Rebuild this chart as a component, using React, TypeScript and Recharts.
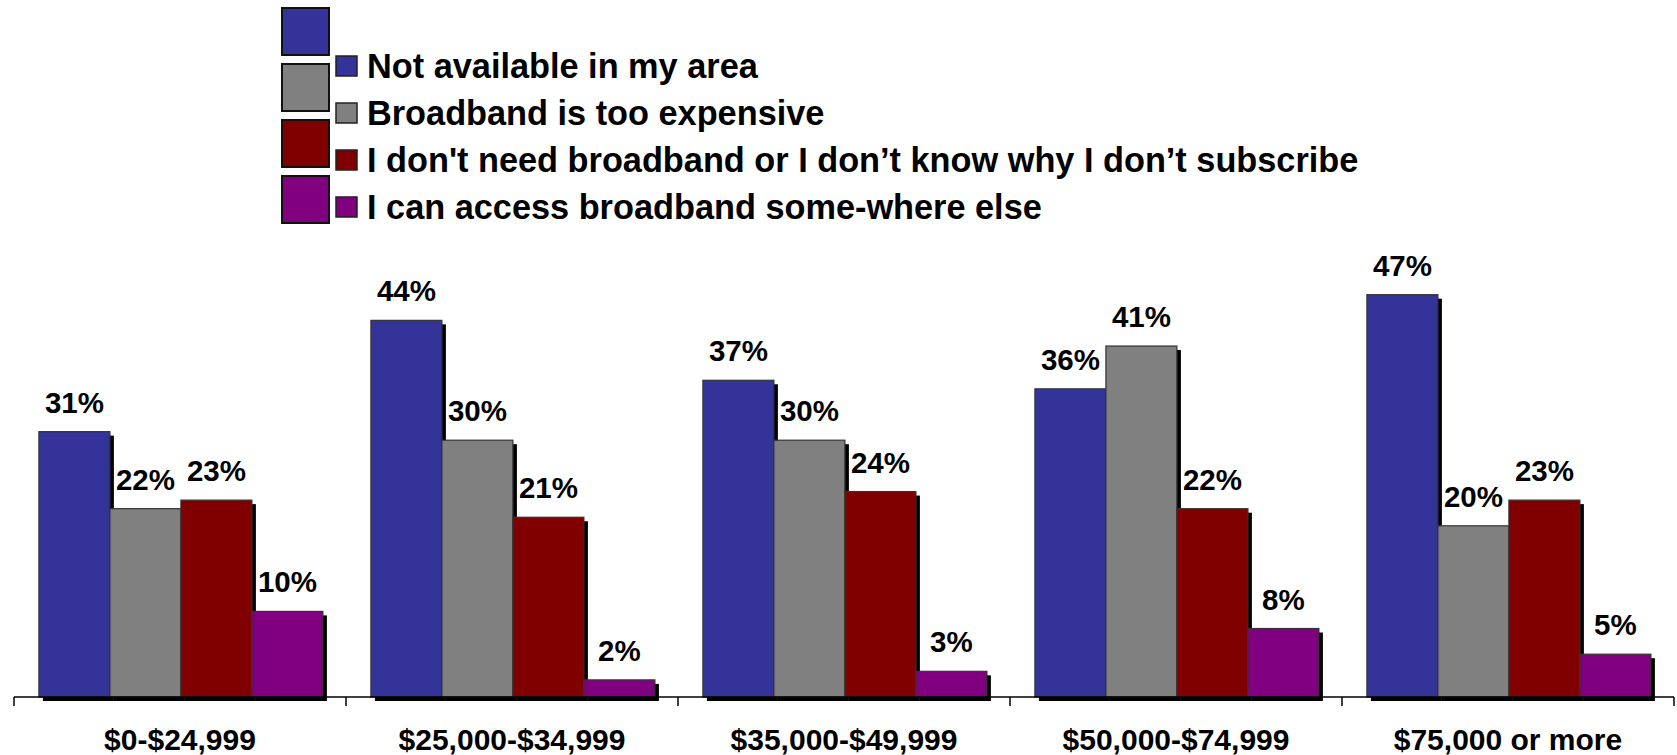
import { BarChart, Bar, XAxis, YAxis, Legend, LabelList } from 'recharts'

const categories = ['$0-$24,999', '$25,000-$34,999', '$35,000-$49,999', '$50,000-$74,999', '$75,000 or more']
const notAvailable = [31, 44, 37, 36, 47]
const tooExpensive = [22, 30, 30, 41, 20]
const dontNeed = [23, 21, 24, 22, 23]
const elsewhere = [10, 2, 3, 8, 5]

const seriesNames = [
  'Not available in my area',
  'Broadband is too expensive',
  "I don't need broadband or I don\u2019t know why I don\u2019t subscribe",
  'I can access broadband some-where else',
]
const seriesKeys = ['notAvailable', 'tooExpensive', 'dontNeed', 'elsewhere']
const colors = ['#333399', '#808080', '#800000', '#800080']

const data = categories.map((name, i) => ({
  name,
  notAvailable: notAvailable[i],
  tooExpensive: tooExpensive[i],
  dontNeed: dontNeed[i],
  elsewhere: elsewhere[i],
}))

const W = 1677
const H = 755
const margin = { top: 269, right: 3, left: 14, bottom: 0 }
const band = (W - margin.left - margin.right) / categories.length
const font = '"Liberation Sans", Arial, sans-serif'

function ShadowBar(props: any) {
  const { x, y, width, height, fill } = props
  if (!height || height <= 0) return null
  return (
    <g>
      <rect x={x + 4} y={y + 4} width={width} height={height} fill="#000" />
      <rect x={x} y={y} width={width} height={height} fill={fill} stroke="#333" strokeWidth={1.2} />
    </g>
  )
}

function CategoryTick(props: any) {
  const { x, y, payload, index } = props
  return (
    <g>
      <line x1={x - band / 2} y1={y} x2={x - band / 2} y2={y + 9} stroke="#000" strokeWidth={1.5} />
      {index === categories.length - 1 && (
        <line x1={x + band / 2} y1={y} x2={x + band / 2} y2={y + 9} stroke="#000" strokeWidth={1.5} />
      )}
      <text x={x} y={y + 53} textAnchor="middle" fontFamily={font} fontWeight="bold" fontSize={30} fill="#000">
        {payload.value}
      </text>
    </g>
  )
}

function LegendBox() {
  return (
    <svg width={W} height={240} style={{ position: 'absolute', left: 0, top: 0 }}>
      {seriesNames.map((name, i) => (
        <g key={name}>
          <rect x={282} y={8 + i * 56} width={47} height={47} fill={colors[i]} stroke="#111" strokeWidth={2} />
          <rect x={336} y={56 + i * 47} width={21} height={20} fill={colors[i]} stroke="#222" strokeWidth={1.5} />
          <text x={367} y={78 + i * 47} fontFamily={font} fontWeight="bold" fontSize={34.3} fill="#000">
            {name}
          </text>
        </g>
      ))}
    </svg>
  )
}

export default function App() {
  return (
    <div style={{ width: W, height: H, position: 'relative' }}>
      <style>{'body{margin:0}'}</style>
      <BarChart width={W} height={H} data={data} margin={margin} barCategoryGap="7.5%" barGap={0}>
        <XAxis
          dataKey="name"
          height={58}
          axisLine={{ stroke: '#000', strokeWidth: 1.5 }}
          tickLine={false}
          tickSize={0}
          tickMargin={0}
          interval={0}
          tick={<CategoryTick />}
        />
        <YAxis hide domain={[0, 50]} />
        <Legend
          verticalAlign="top"
          wrapperStyle={{ position: 'absolute', left: 0, top: 0, width: 0, height: 0 }}
          content={() => <LegendBox />}
        />
        {seriesKeys.map((key, i) => (
          <Bar key={key} dataKey={key} name={seriesNames[i]} fill={colors[i]} shape={<ShadowBar />} isAnimationActive={false}>
            <LabelList
              dataKey={key}
              position="top"
              offset={19}
              formatter={(v: any) => `${v}%`}
              style={{ fontFamily: font, fontWeight: 'bold', fontSize: 29.5, fill: '#000' }}
            />
          </Bar>
        ))}
      </BarChart>
    </div>
  )
}
